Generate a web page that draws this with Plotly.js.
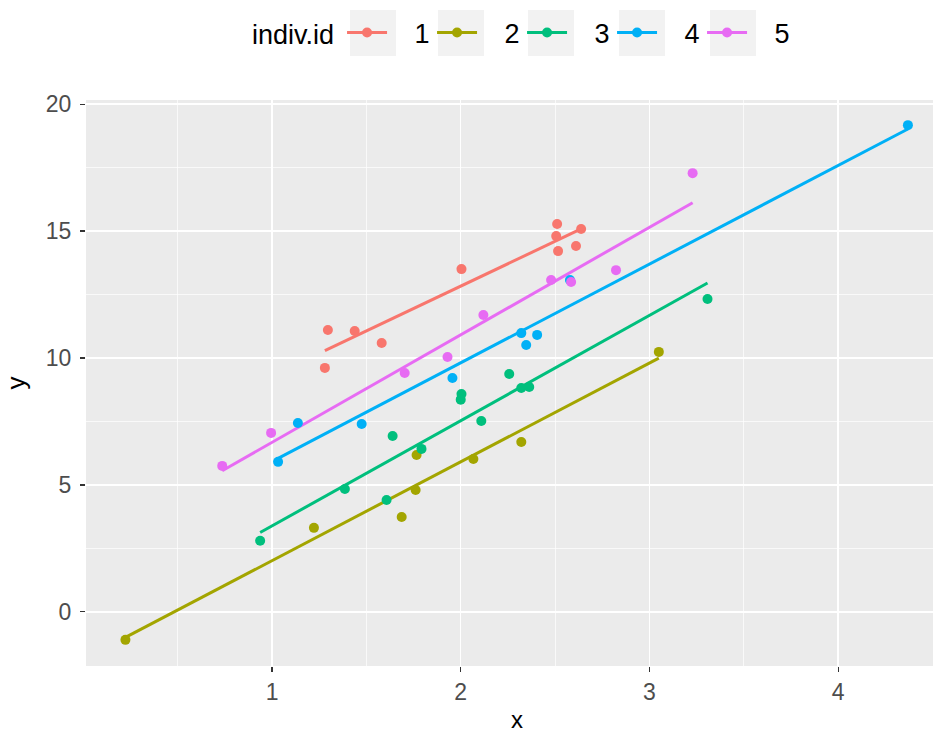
<!DOCTYPE html>
<html>
<head>
<meta charset="utf-8">
<script src="https://cdn.plot.ly/plotly-3.0.1.min.js"></script>
<style>body{margin:0;padding:0;background:#fff;}#chart{width:938px;height:735px;}</style>
</head>
<body>
<div id="chart"></div>
<script>
// ---- data ----
const ids = ['1', '2', '3', '4', '5'];
const colors = ['#F8766D', '#A3A500', '#00BF7D', '#00B0F6', '#E76BF3'];

const x1 = [1.296, 1.280, 1.438, 1.581, 2.004, 2.511, 2.506, 2.516, 2.611, 2.638];
const y1 = [11.10, 9.61, 11.06, 10.59, 13.50, 15.28, 14.80, 14.21, 14.41, 15.08];

const x2 = [0.223, 1.222, 1.687, 1.761, 1.766, 2.067, 2.321, 3.050];
const y2 = [-1.10, 3.31, 3.74, 4.80, 6.18, 6.02, 6.69, 10.24];

const x3 = [0.937, 1.386, 1.607, 1.639, 1.792, 2.004, 2.000, 2.109, 2.257, 2.321, 2.363, 3.308];
const y3 = [2.80, 4.84, 4.41, 6.93, 6.42, 8.58, 8.36, 7.52, 9.37, 8.82, 8.86, 12.32];

const x4 = [1.032, 1.137, 1.475, 1.956, 2.321, 2.347, 2.405, 2.579, 4.370];
const y4 = [5.91, 7.44, 7.40, 9.21, 10.98, 10.51, 10.91, 13.07, 19.17];

const x5 = [0.736, 0.995, 1.703, 1.930, 2.120, 2.479, 2.585, 2.823, 3.229];
const y5 = [5.75, 7.05, 9.41, 10.04, 11.69, 13.07, 12.99, 13.46, 17.28];

const xs = [x1, x2, x3, x4, x5];
const ys = [y1, y2, y3, y4, y5];

// ---- linear fit (like geom_smooth(method = "lm", se = FALSE)) ----
function lmFit(x, y) {
  const n = x.length;
  const mx = x.reduce((a, b) => a + b, 0) / n;
  const my = y.reduce((a, b) => a + b, 0) / n;
  let sxy = 0, sxx = 0;
  for (let i = 0; i < n; i++) { sxy += (x[i] - mx) * (y[i] - my); sxx += (x[i] - mx) ** 2; }
  const b = sxy / sxx, a = my - b * mx;
  const lo = Math.min(...x), hi = Math.max(...x);
  return { x: [lo, hi], y: [a + b * lo, a + b * hi] };
}

const traces = [];
ids.forEach((id, k) => {
  const fit = lmFit(xs[k], ys[k]);
  traces.push({
    x: fit.x, y: fit.y, type: 'scatter', mode: 'lines',
    line: { color: colors[k], width: 3 }, showlegend: false, hoverinfo: 'skip'
  });
});
ids.forEach((id, k) => {
  traces.push({
    x: xs[k], y: ys[k], type: 'scatter', mode: 'markers',
    marker: { color: colors[k], size: 10 }, showlegend: false
  });
});
// legend entries (point + line key)
ids.forEach((id, k) => {
  traces.push({
    x: [null], y: [null], type: 'scatter', mode: 'lines+markers',
    name: '\u00A0\u00A0\u00A0' + id,
    line: { color: colors[k], width: 3 }, marker: { color: colors[k], size: 10 }
  });
});

// light grey legend key backgrounds (layout decoration)
const W = 938, H = 735, ML = 86, MR = 5, MT = 100, MB = 69;
const PW = W - ML - MR, PH = H - MT - MB;
const keyCenters = [373, 461, 551, 642, 733];
const shapes = keyCenters.map(c => ({
  type: 'rect', xref: 'paper', yref: 'paper', layer: 'below',
  x0: (c - 23 - ML) / PW, x1: (c + 23 - ML) / PW,
  y0: 1 + (MT - 56) / PH, y1: 1 + (MT - 10) / PH,
  fillcolor: '#F2F2F2', line: { width: 0 }
}));

const layout = {
  width: W, height: H,
  margin: { l: ML, r: MR, t: MT, b: MB },
  paper_bgcolor: '#FFFFFF', plot_bgcolor: '#EBEBEB',
  font: { family: 'Liberation Sans, Arial, sans-serif', color: '#4D4D4D' },
  showlegend: true,
  shapes: shapes,
  annotations: [{
    text: 'x', xref: 'x', yref: 'paper',
    x: 2.30, y: -(719 - (H - MB)) / PH,
    xanchor: 'center', yanchor: 'middle', showarrow: false,
    font: { size: 24, color: '#000000' }
  }],
  legend: {
    orientation: 'h', xref: 'container', yref: 'container',
    x: 250 / W, xanchor: 'left', y: 1 - 33 / H, yanchor: 'middle',
    font: { size: 27, color: '#000000' },
    title: { text: 'indiv.id', side: 'left', font: { size: 27, color: '#000000' } },
    itemwidth: 40, entrywidth: 35, bgcolor: 'rgba(0,0,0,0)'
  },
  xaxis: {
    range: [0.014, 4.503], dtick: 1, tick0: 0,
    showgrid: true, gridcolor: '#FFFFFF', gridwidth: 1.5,
    minor: { dtick: 0.5, showgrid: true, gridcolor: '#FFFFFF', gridwidth: 0.7 },
    zeroline: false, showline: false,
    ticks: 'outside', ticklen: 5, tickwidth: 1.1, tickcolor: '#333333',
    tickfont: { size: 23, color: '#4D4D4D' }
  },
  yaxis: {
    range: [-2.13, 20.16], dtick: 5, tick0: 0,
    showgrid: true, gridcolor: '#FFFFFF', gridwidth: 1.5,
    minor: { dtick: 2.5, showgrid: true, gridcolor: '#FFFFFF', gridwidth: 0.7 },
    zeroline: false, showline: false,
    ticks: 'outside', ticklen: 5, tickwidth: 1.1, tickcolor: '#333333',
    ticklabelstandoff: 4,
    tickfont: { size: 23, color: '#4D4D4D' },
    title: { text: 'y', font: { size: 26, color: '#000000' }, standoff: 12 }
  }
};

Plotly.newPlot('chart', traces, layout, { displayModeBar: false, staticPlot: true });
</script>
</body>
</html>
